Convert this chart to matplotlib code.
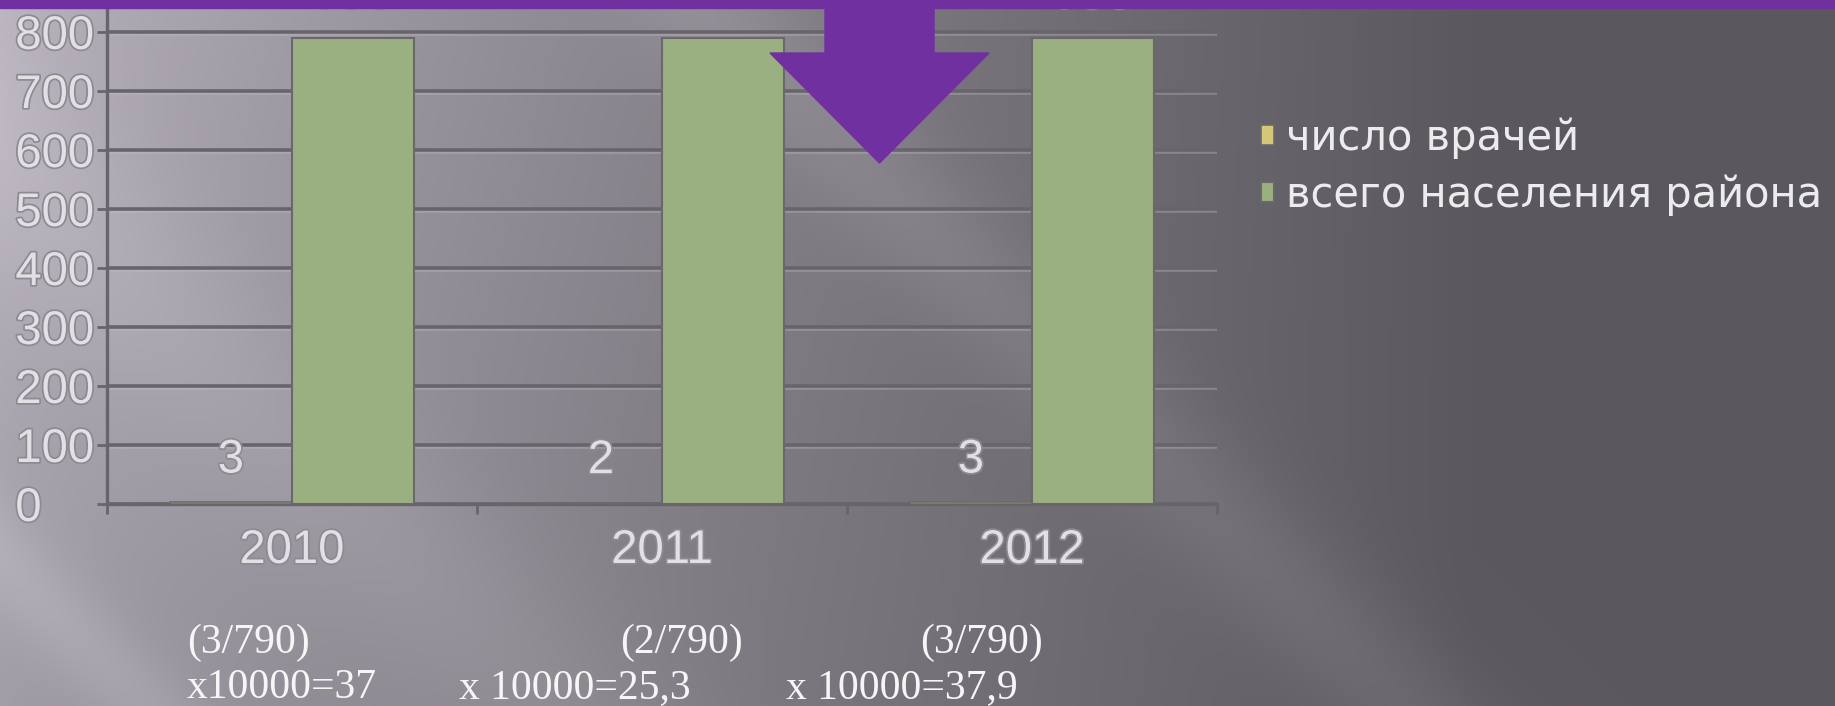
import numpy as np
import matplotlib.pyplot as plt
import matplotlib.patheffects as pe
from matplotlib.patches import Polygon, Rectangle

years = ['2010', '2011', '2012']
doctors = [3, 2, 3]
population = [790, 790, 790]
series_names = ['число врачей', 'всего населения района']
rate_top = ['(3/790)', '(2/790)', '(3/790)']
rate_bottom = ['x10000=37', 'x 10000=25,3', 'x 10000=37,9']

W_PX, H_PX = 1835, 706
fig = plt.figure(figsize=(W_PX / 100, H_PX / 100), dpi=100)

# slide background: grey gradient with soft diagonal light streaks
bg = fig.add_axes([0, 0, 1, 1], zorder=-5)
yy, xx = np.mgrid[0:353, 0:918]
xp = xx / 917 * W_PX
yp = yy / 352 * H_PX
t = np.clip(xp / 1470, 0, 1) ** 0.85
left_c = np.array([0.72, 0.70, 0.74])
right_c = np.array([0.36, 0.345, 0.37])
img = left_c * (1 - t[..., None]) + right_c * t[..., None]
img *= (1 - 0.12 * (yp / H_PX) * (1 - t))[..., None]
u = xp - yp
for c, wd, amp in [(-560, 60, 0.05), (-150, 140, 0.04), (700, 90, 0.05)]:
    img += amp * np.exp(-((u - c) / wd) ** 2)[..., None]
bg.imshow(np.clip(img, 0, 1), extent=[0, 1, 0, 1], aspect='auto')
bg.axis('off')

# chart area (0 line at y=504px, 100 units ~ 59px)
ax = fig.add_axes([107 / W_PX, (H_PX - 504) / H_PX, 1110 / W_PX, 900 * 0.59 / H_PX])
ax.patch.set_alpha(0)

x = np.arange(len(years))
w = 0.33
grid_c = '#67656b'
b1 = ax.bar(x - w / 2, doctors, w, color='#d4c77a', edgecolor='#6a6a6a', linewidth=1.2,
            label=series_names[0], zorder=3)
b2 = ax.bar(x + w / 2, population, w, color='#9bb080', edgecolor='#69686c', linewidth=1.5,
            label=series_names[1], zorder=3)

emboss = [pe.withStroke(linewidth=2.5, foreground='#8d8a91')]
lbl_kw = dict(family='Liberation Sans', color='#e2e0e4', path_effects=emboss)

for bars, vals in [(b1, doctors), (b2, population)]:
    for rect, v in zip(bars, vals):
        ax.annotate(str(v), (rect.get_x() + rect.get_width() / 2, v),
                    xytext=(0, 30), textcoords='offset points', ha='center', va='center',
                    fontsize=34, annotation_clip=False, **lbl_kw)

ax.set_xlim(-0.5, 2.5)
ax.set_ylim(0, 900)
ax.set_yticks(range(0, 801, 100))
ax.set_yticklabels([str(v) for v in range(0, 801, 100)], ha='left', fontsize=34, **lbl_kw)
ax.tick_params(axis='y', length=7, width=2, color=grid_c, pad=59)

ax.set_xticks(x)
ax.set_xticklabels(years, fontsize=34, **lbl_kw)
ax.set_xticks(np.arange(-0.5, 3, 1), minor=True)
ax.tick_params(axis='x', which='major', length=0, pad=18)
ax.tick_params(axis='x', which='minor', length=7, width=2, color=grid_c)

ax.grid(axis='y', color=grid_c, linewidth=2.6)
ax.set_axisbelow(True)
for gl in ax.get_ygridlines():
    gl.set_path_effects([pe.SimpleLineShadow(offset=(0, -1.5), shadow_color='#c4c0c8', alpha=0.35),
                         pe.Normal()])
for s in ['top', 'right']:
    ax.spines[s].set_visible(False)
for s in ['left', 'bottom']:
    ax.spines[s].set_color(grid_c)
    ax.spines[s].set_linewidth(2.4)

leg = fig.legend(handles=[b1, b2], loc='upper left', bbox_to_anchor=(1261 / W_PX, 1 - 117 / H_PX),
                 frameon=False, handlelength=0.3, handleheight=0.35,
                 handletextpad=0.3, labelspacing=0.36, borderpad=0, borderaxespad=0,
                 prop={'family': 'DejaVu Sans', 'size': 30})
for txt in leg.get_texts():
    txt.set_color('#ececee')

# formula text box under the chart
top_x = [187, 620, 920]
bot_x = [187, 459, 786]
for i in range(len(years)):
    fig.text(top_x[i] / W_PX, 1 - 653 / H_PX, rate_top[i], family='Liberation Serif',
             fontsize=30, color='#f6f6f6', va='baseline')
    fig.text(bot_x[i] / W_PX, 1 - 698 / H_PX, rate_bottom[i], family='Liberation Serif',
             fontsize=30, color='#f6f6f6', va='baseline')

# purple title strip and arrow
purple = '#7030a0'
fig.patches.append(Rectangle((0, 1 - 7.5 / H_PX), 1, 7.5 / H_PX, transform=fig.transFigure,
                             color=purple, zorder=10))
arrow_px = [(825, 0), (934, 0), (934, 53), (989, 53), (879.5, 163), (770, 53), (825, 53)]
fig.patches.append(Polygon([(px / W_PX, 1 - py / H_PX) for px, py in arrow_px], closed=True,
                           transform=fig.transFigure, color=purple, zorder=10))

fig.savefig('out.png', dpi=100)
